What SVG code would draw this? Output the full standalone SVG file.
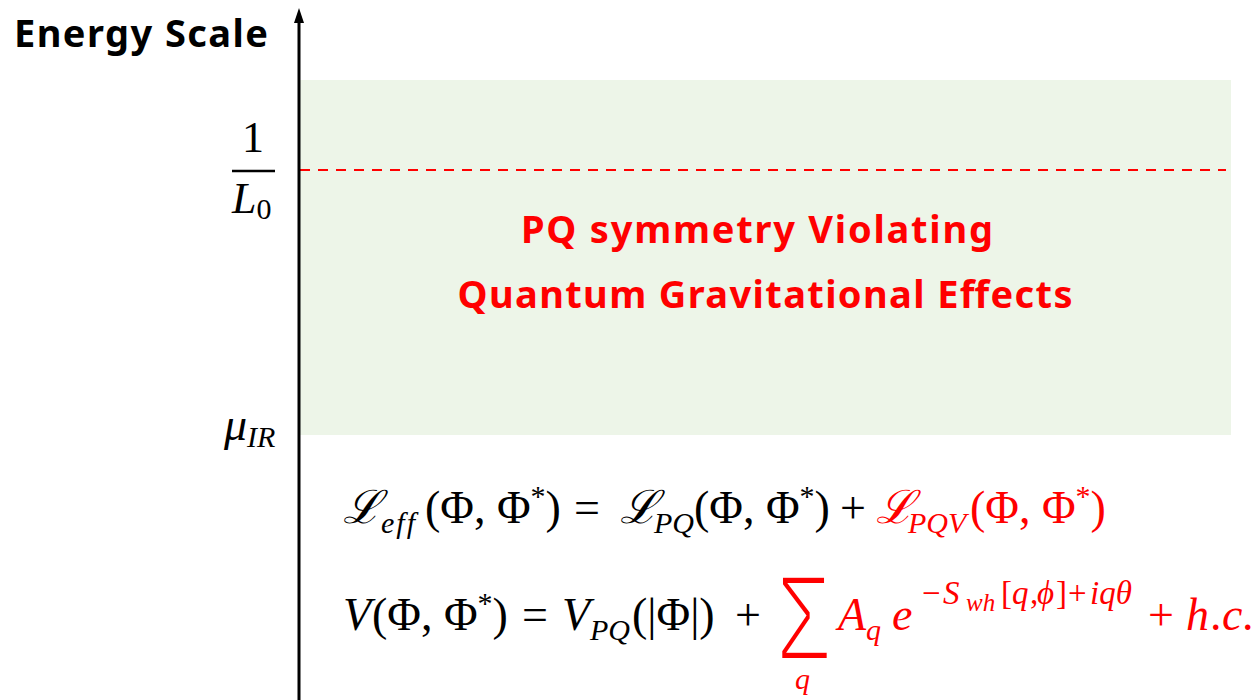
<svg xmlns="http://www.w3.org/2000/svg" width="1257" height="700" viewBox="0 0 1257 700">
<style>
.lbl{font-family:"Noto Sans","Open Sans","Liberation Sans",sans-serif;font-weight:bold}
.m{font-family:"Liberation Serif","DejaVu Serif",serif;font-size:46px}
.i{font-style:italic}
.sub{font-size:30px;font-style:italic}
.ex{font-size:33px}
.red{fill:#FF0000}
</style>
<defs>
<marker id="ah" markerWidth="16" markerHeight="12" refX="1" refY="6" orient="auto" markerUnits="userSpaceOnUse">
<path d="M0,1 L15,6 L0,11 Z" fill="#000"/>
</marker>
</defs>
<rect width="1257" height="700" fill="#fff"/>
<g id="region">
<rect x="300" y="80" width="931" height="355" fill="#EDF5E8"/>
<line x1="300" y1="170" x2="1226" y2="170" stroke="#FF0000" stroke-width="2" stroke-dasharray="10,8"/>
<text class="lbl red" x="757" y="243" font-size="38" text-anchor="middle" textLength="472">PQ symmetry Violating</text>
<text class="lbl red" x="765" y="308" font-size="38" text-anchor="middle" textLength="615">Quantum Gravitational Effects</text>
</g>
<g id="connectors">
<line x1="299" y1="700" x2="299" y2="22" stroke="#000" stroke-width="3" marker-end="url(#ah)"/>
</g>
<g id="axis-label">
<text class="lbl" x="14" y="47" font-size="38" textLength="254">Energy Scale</text>
</g>
<g id="tick-L0">
<text class="m" x="253" y="152" text-anchor="middle" style="font-size:44px">1</text>
<line x1="232" y1="171" x2="275" y2="171" stroke="#000" stroke-width="2.5"/>
<text class="m" x="232" y="213" style="font-size:44px"><tspan class="i">L</tspan><tspan style="font-size:30px" dy="6">0</tspan></text>
</g>
<g id="tick-muIR">
<text class="m" x="224" y="440"><tspan class="i">μ</tspan><tspan class="sub" dy="7">IR</tspan></text>
</g>
<g id="eq1">
<text class="m" y="523"><tspan x="343" class="i">ℒ</tspan><tspan x="381" class="sub" dy="10" style="letter-spacing:2px">eff</tspan><tspan x="425" dy="-10">(Φ, Φ</tspan><tspan class="sub" style="font-style:normal" dy="-17">*</tspan><tspan dy="17">)</tspan><tspan x="574">=</tspan><tspan x="620" class="i">ℒ</tspan><tspan x="654" class="sub" dy="10">PQ</tspan><tspan x="694" dy="-10">(Φ, Φ</tspan><tspan class="sub" style="font-style:normal" dy="-17">*</tspan><tspan dy="17">)</tspan><tspan x="840">+</tspan></text>
<text class="m red" y="523"><tspan x="876" class="i">ℒ</tspan><tspan x="908" class="sub" dy="10">PQV</tspan><tspan x="970" dy="-10">(Φ, Φ</tspan><tspan class="sub" style="font-style:normal" dy="-17">*</tspan><tspan dy="17">)</tspan></text>
</g>
<g id="eq2">
<text class="m" y="630"><tspan x="343" class="i">V</tspan><tspan x="372">(Φ, Φ</tspan><tspan class="sub" style="font-style:normal" dy="-17">*</tspan><tspan dy="17">)</tspan><tspan x="522">=</tspan><tspan x="562" class="i">V</tspan><tspan x="590" class="sub" dy="10">PQ</tspan><tspan x="632" dy="-10">(|Φ|)</tspan><tspan x="735">+</tspan></text>
<text class="red" x="776" y="660" stroke="#fff" stroke-width="4" style="font-family:'Liberation Sans',sans-serif;font-size:122px" transform="translate(776,0) scale(0.74,1) translate(-776,0)">Σ</text>
<text class="m red sub" x="795" y="689">q</text>
<text class="m red" y="630"><tspan x="838" class="i">A</tspan><tspan x="866" class="sub" dy="10">q</tspan><tspan x="892" class="i" dy="-10">e</tspan></text>
<text class="m red ex" y="604"><tspan x="922">−</tspan><tspan x="943" class="i">S</tspan><tspan x="966" class="i" y="611" style="font-size:25px">wh</tspan><tspan x="1001" y="604">[</tspan><tspan x="1012" class="i">q</tspan><tspan x="1030">,</tspan><tspan x="1037" class="i">ϕ</tspan><tspan x="1056">]</tspan><tspan x="1068">+</tspan><tspan x="1090" class="i">iqθ</tspan></text>
<text class="m red" y="630"><tspan x="1148">+</tspan><tspan x="1186" class="i">h</tspan><tspan x="1210">.</tspan><tspan x="1222" class="i">c</tspan><tspan x="1242">.</tspan></text>
</g>
</svg>
